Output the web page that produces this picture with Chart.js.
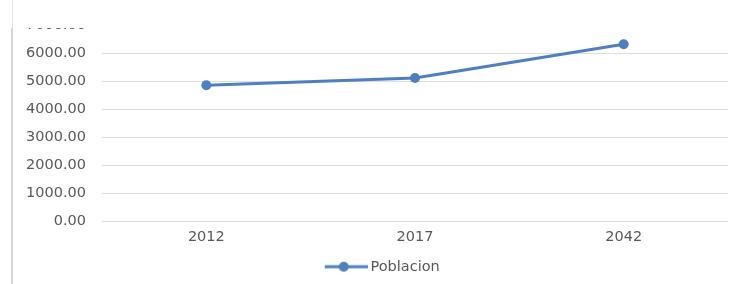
<!DOCTYPE html>
<html>
<head>
<meta charset="utf-8">
<script src="https://cdn.jsdelivr.net/npm/chart.js@4/dist/chart.umd.min.js"></script>
<style>
  html, body { margin: 0; padding: 0; background: #fff; }
  #wrap { position: relative; width: 744px; height: 284px; overflow: hidden; }
  #chart { position: absolute; left: 0; top: 0; }
  /* top strip of the screenshot covers the top of the plot */
  #cover { position: absolute; left: 13px; top: 0; width: 731px; height: 28px; background: #fff; }
  #edgeTop { position: absolute; left: 12px; top: 0; width: 1px; height: 28px; background: #e3e3e3; }
  #edge { position: absolute; left: 11px; top: 28px; width: 2px; height: 256px; background: #d6d6d6; }
</style>
</head>
<body>
<div id="wrap">
  <canvas id="chart" width="744" height="284"></canvas>
  <div id="cover"></div>
  <div id="edgeTop"></div>
  <div id="edge"></div>
</div>
<script>
// Data
const years = ['2012', '2017', '2042'];
const poblacion = [4850, 5110, 6310];
const yTicks = [0, 1000, 2000, 3000, 4000, 5000, 6000, 7000];

const lineColor = '#4e7fc0';
const textColor = '#595959';
const gridColor = '#dedede';
const fontFamily = 'DejaVu Sans';

// legend marker: line with a dot in the middle, like Excel.
// drawn on the right part of a wider image so the legend sits where Excel put it
function legendMarker() {
  const c = document.createElement('canvas');
  c.width = 84;
  c.height = 12;
  const ctx = c.getContext('2d');
  ctx.strokeStyle = lineColor;
  ctx.lineWidth = 3;
  ctx.beginPath();
  ctx.moveTo(41, 6);
  ctx.lineTo(84, 6);
  ctx.stroke();
  ctx.fillStyle = lineColor;
  ctx.beginPath();
  ctx.arc(60, 6, 5, 0, Math.PI * 2);
  ctx.fill();
  return c;
}

const marker = legendMarker();

new Chart(document.getElementById('chart').getContext('2d'), {
  type: 'line',
  data: {
    labels: years,
    datasets: [{
      label: 'Poblacion',
      data: poblacion,
      borderColor: lineColor,
      backgroundColor: lineColor,
      borderWidth: 3,
      pointRadius: 5,
      pointBorderWidth: 0,
      pointStyle: 'circle',
      tension: 0
    }]
  },
  options: {
    responsive: false,
    animation: false,
    layout: {
      padding: { top: 25, right: 16, left: 0, bottom: 0 }
    },
    scales: {
      x: {
        offset: true,
        grid: { display: false, drawTicks: false },
        border: { display: false },
        afterFit: (scale) => {
          scale.height = 28.5;
        },
        ticks: {
          color: textColor,
          padding: 8,
          font: { family: fontFamily, size: 14.5 }
        }
      },
      y: {
        min: 0,
        max: 7000,
        afterBuildTicks: (scale) => {
          scale.ticks = yTicks.map(v => ({ value: v }));
        },
        afterFit: (scale) => {
          scale.width = 102;
        },
        grid: { color: gridColor, drawTicks: false },
        border: { display: false },
        ticks: {
          color: textColor,
          padding: 16,
          font: { family: fontFamily, size: 14.5 },
          callback: (v) => Number(v).toFixed(2)
        }
      }
    },
    plugins: {
      legend: {
        position: 'bottom',
        labels: {
          usePointStyle: true,
          pointStyleWidth: 75,
          color: textColor,
          padding: 10,
          font: { family: fontFamily, size: 14.5 },
          generateLabels: (chart) => [{
            text: 'Poblacion',
            pointStyle: marker,
            fillStyle: lineColor,
            strokeStyle: lineColor,
            lineWidth: 0,
            fontColor: textColor,
            datasetIndex: 0
          }]
        }
      },
      tooltip: { enabled: false }
    }
  }
});
</script>
</body>
</html>
